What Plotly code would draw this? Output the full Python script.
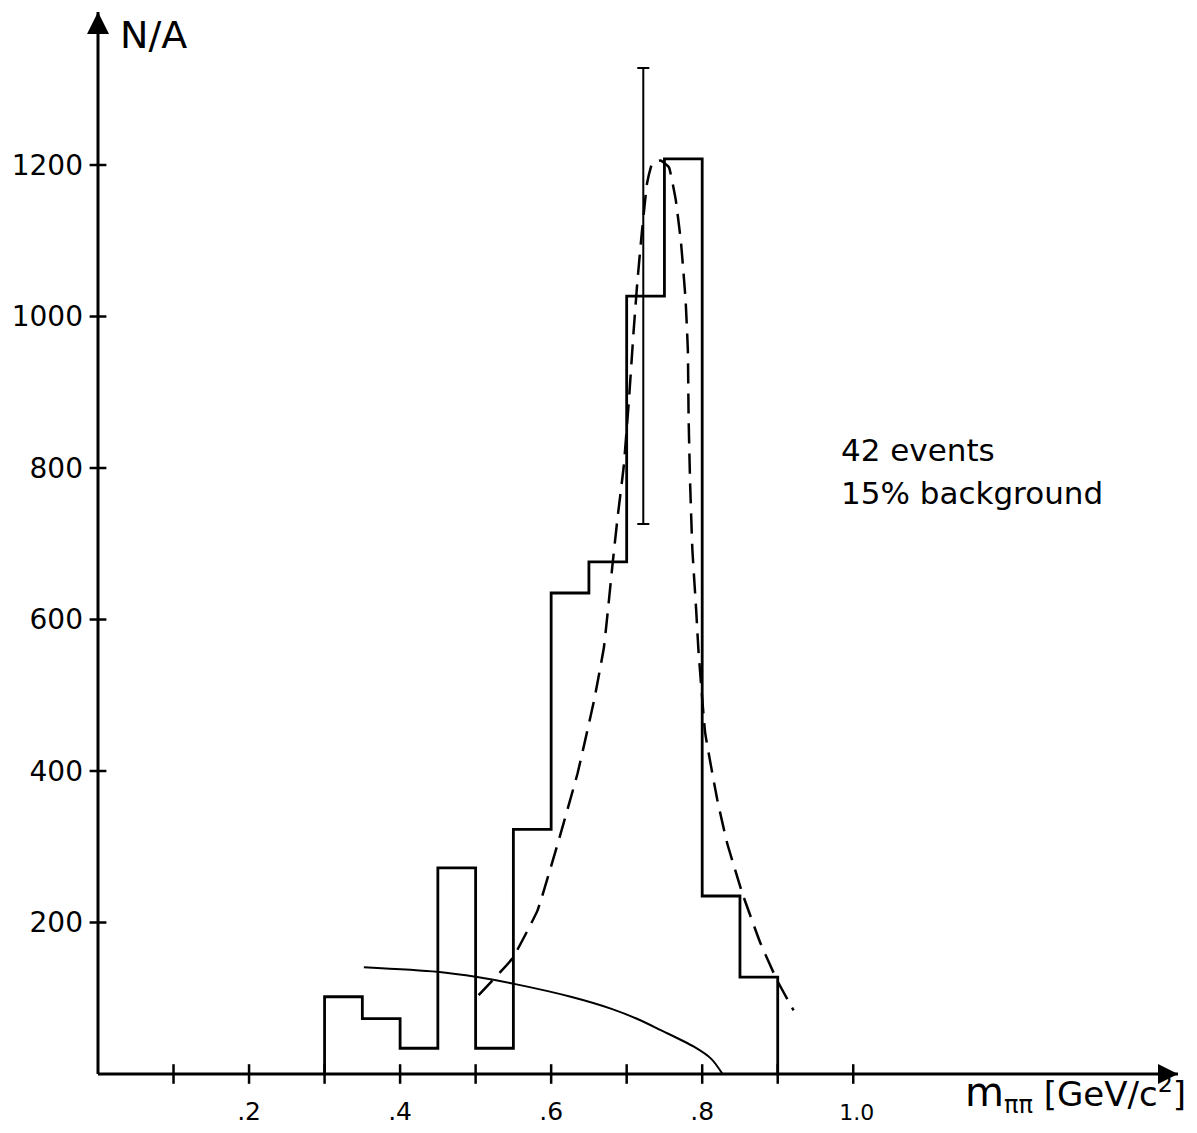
import plotly.graph_objects as go

# ---- data ----
bin_edges = [0.30, 0.35, 0.40, 0.45, 0.50, 0.55, 0.60, 0.65, 0.70, 0.75, 0.80, 0.85, 0.90]
counts = [102, 73, 34, 272, 34, 323, 635, 676, 1027, 1208, 235, 128]

err_x = [0.722]
err_y = [1027]
err_size = [301]

fit_x = [0.504, 0.549, 0.582, 0.609, 0.635, 0.657, 0.670, 0.681, 0.688, 0.696, 0.703,
         0.709, 0.714, 0.720, 0.727, 0.734, 0.745, 0.756, 0.765, 0.772, 0.778, 0.781,
         0.782, 0.784, 0.787, 0.792, 0.795, 0.804, 0.820, 0.833, 0.853, 0.877, 0.899, 0.921]
fit_y = [104, 153, 216, 305, 397, 494, 564, 670, 735, 801, 890,
         978, 1044, 1110, 1176, 1203, 1206, 1197, 1154, 1097, 1022, 956,
         867, 780, 692, 613, 560, 450, 362, 305, 239, 173, 124, 84]

bg_x = [0.352, 0.449, 0.502, 0.551, 0.626, 0.680, 0.718, 0.745, 0.789, 0.812, 0.827]
bg_y = [141, 135, 128, 119, 102, 86, 71, 58, 36, 20, 0]

x_tick_vals = [0.2, 0.4, 0.6, 0.8, 1.0]
x_tick_text = [".2", ".4", ".6", ".8", '<span style="font-size:22px"> 1.0</span>']
x_minor_ticks = [0.1, 0.2, 0.3, 0.4, 0.5, 0.6, 0.7, 0.8, 0.9, 1.0]
y_tick_vals = [200, 400, 600, 800, 1000, 1200]
y_tick_text = ["200", "400", "600", "800", "1000", "1200"]

X_MAX = 1.43
Y_MAX = 1402

FONT = "DejaVu Sans"
INK = "black"

# histogram outline as a step line
hx = [bin_edges[0]] + bin_edges[:-1] + [bin_edges[-1]]
hy = [0] + counts + [0]

fig = go.Figure()

fig.add_trace(go.Scatter(x=hx, y=hy, mode="lines", line=dict(color=INK, width=2.8, shape="hv"),
                         showlegend=False, hoverinfo="skip"))

fig.add_trace(go.Scatter(x=fit_x, y=fit_y, mode="lines",
                         line=dict(color=INK, width=2.5, dash="20px,10px", shape="spline", smoothing=0.3),
                         showlegend=False, hoverinfo="skip"))

fig.add_trace(go.Scatter(x=bg_x, y=bg_y, mode="lines",
                         line=dict(color=INK, width=2, shape="spline", smoothing=0.8),
                         showlegend=False, hoverinfo="skip"))

fig.add_trace(go.Scatter(x=err_x, y=err_y, mode="markers", marker=dict(size=1, color="rgba(0,0,0,0)"),
                         error_y=dict(type="data", array=err_size, visible=True, color=INK,
                                      thickness=2, width=6),
                         showlegend=False, hoverinfo="skip"))

# axis tick marks crossing the axes
fig.add_trace(go.Scatter(x=x_minor_ticks, y=[0] * len(x_minor_ticks), mode="markers",
                         marker=dict(symbol="line-ns", size=14, line=dict(color=INK, width=2.5)),
                         cliponaxis=False, showlegend=False, hoverinfo="skip"))
fig.add_trace(go.Scatter(x=[0] * len(y_tick_vals), y=y_tick_vals, mode="markers",
                         marker=dict(symbol="line-ew", size=12, line=dict(color=INK, width=2.5)),
                         cliponaxis=False, showlegend=False, hoverinfo="skip"))

# axis arrowheads
fig.add_trace(go.Scatter(x=[0], y=[Y_MAX], mode="markers",
                         marker=dict(symbol="arrow-up", size=22, color=INK, line=dict(width=0)),
                         cliponaxis=False, showlegend=False, hoverinfo="skip"))
fig.add_trace(go.Scatter(x=[X_MAX], y=[0], mode="markers",
                         marker=dict(symbol="arrow-right", size=20, color=INK, line=dict(width=0)),
                         cliponaxis=False, showlegend=False, hoverinfo="skip"))

# axis lines along the plot-area edges
shapes = [
    dict(type="line", xref="paper", yref="paper", x0=0, y0=0, x1=1, y1=0,
         line=dict(color=INK, width=3)),
    dict(type="line", xref="paper", yref="paper", x0=0, y0=0, x1=0, y1=1,
         line=dict(color=INK, width=3)),
]

annotations = [
    dict(x=0.027, y=1372, xref="x", yref="y", text="N/A", showarrow=False,
         xanchor="left", yanchor="middle", font=dict(family=FONT, size=38, color=INK)),
    dict(x=0.981, y=824, xref="x", yref="y", text="42 events", showarrow=False,
         xanchor="left", yanchor="middle", font=dict(family=FONT, size=31, color=INK)),
    dict(x=0.981, y=767, xref="x", yref="y", text="15% background", showarrow=False,
         xanchor="left", yanchor="middle", font=dict(family=FONT, size=31, color=INK)),
    dict(x=1.009, y=-0.019, xref="paper", yref="paper",
         text='<span style="font-size:40px">m</span><sub><span style="font-size:24px">ππ</span></sub>'
              ' [GeV/c<sup>2</sup>]',
         showarrow=False,
         xanchor="right", yanchor="middle", font=dict(family=FONT, size=34, color=INK)),
]

fig.update_layout(
    width=1181, height=1117,
    margin=dict(l=90, r=11, t=4, b=51, autoexpand=False),
    paper_bgcolor="white", plot_bgcolor="white",
    showlegend=False,
    annotations=annotations,
    shapes=shapes,
    xaxis=dict(range=[0, X_MAX], showgrid=False, zeroline=False, automargin=False,
               showline=False,
               tickvals=x_tick_vals, ticktext=x_tick_text, ticks="",
               ticklabelstandoff=20,
               tickfont=dict(family=FONT, size=25, color=INK)),
    yaxis=dict(range=[0, Y_MAX], showgrid=False, zeroline=False, automargin=False,
               showline=False,
               tickvals=y_tick_vals, ticktext=y_tick_text, ticks="",
               ticklabelstandoff=14,
               tickfont=dict(family=FONT, size=28, color=INK)),
)

fig.write_html("out.html")
